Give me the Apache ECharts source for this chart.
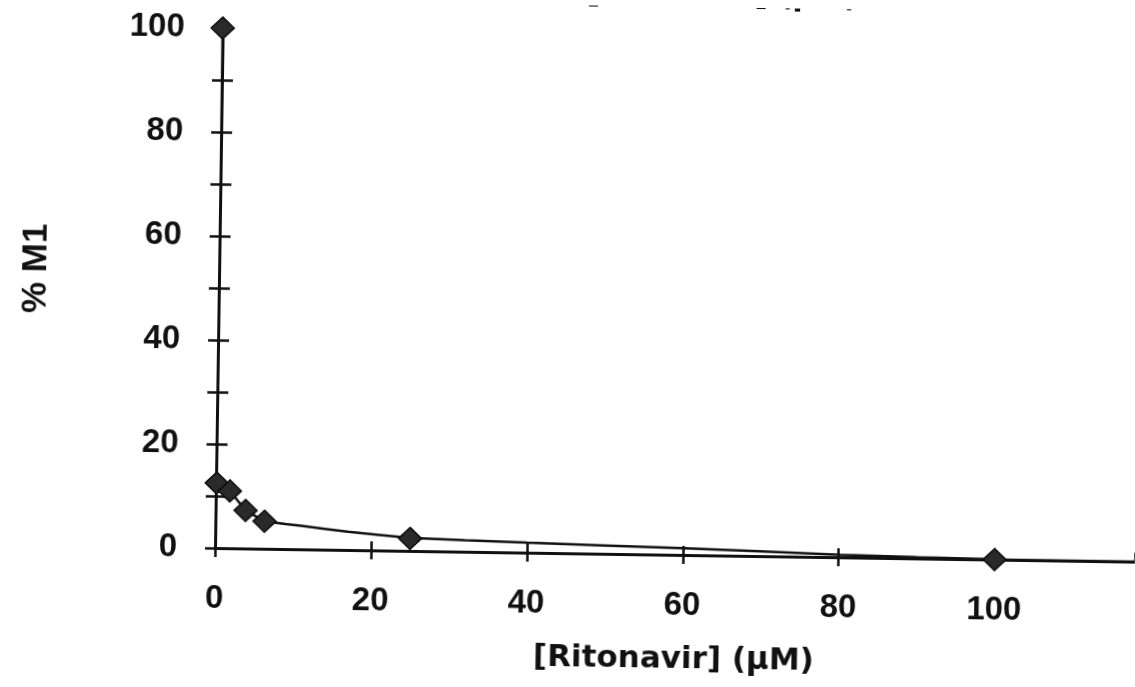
<!DOCTYPE html>
<html>
<head>
<meta charset="utf-8">
<script src="https://cdn.jsdelivr.net/npm/echarts@6/dist/echarts.min.js"></script>
<style>
html,body{margin:0;padding:0;background:#fff;overflow:hidden;}
#chart{width:1135px;height:687px;transform:rotate(0.85deg);transform-origin:215px 548px;}
</style>
</head>
<body>
<div id="chart"></div>
<script>
// Measured points: [Ritonavir] (uM) vs % M1
const pointX = [0, 0.1, 1.8, 3.85, 6.3, 25, 100];
const pointY = [100, 12.5, 11.0, 7.3, 5.3, 2.4, 0];
// Fitted curve
const curveX = [0, 0.1, 1.8, 3.85, 6.3, 7.4, 9, 11, 14, 17, 21, 25, 32, 40, 50, 60, 70, 80, 90, 100, 110, 118];
const curveY = [100, 12.5, 11.0, 7.3, 5.3, 5.1, 4.8, 4.5, 4.0, 3.5, 3.0, 2.5, 2.2, 1.9, 1.6, 1.3, 0.9, 0.5, 0.25, 0.05, 0, 0];
const xTickLabels = [0, 20, 40, 60, 80, 100];
const yTickLabels = [0, 20, 40, 60, 80, 100];
const titleText = '[Ritonavir] (\u03bcM)';
const xName = '[Ritonavir] (\u03bcM)';
const yName = '% M1';

const chart = echarts.init(document.getElementById('chart'), null, {renderer: 'canvas'});
const ink = '#111';
const lblFont = {color: ink, fontFamily: 'Liberation Sans', fontWeight: 'bold', fontSize: 33};

const option = {
  backgroundColor: '#fff',
  animation: false,
  title: {
    text: titleText,
    right: 280,
    top: -31,
    textStyle: {fontFamily: 'DejaVu Sans', fontWeight: 'bold', fontSize: 30, color: ink, lineHeight: 30}
  },
  grid: {left: 215, right: 0, top: 28, bottom: 139, containLabel: false},
  xAxis: [
    {
      type: 'value', min: 0, max: 118, interval: 20,
      name: xName, nameLocation: 'middle', nameGap: 89,
      nameTextStyle: {fontFamily: 'DejaVu Sans', fontWeight: 'bold', fontSize: 31, color: ink},
      axisLine: {show: true, lineStyle: {color: ink, width: 3}},
      axisTick: {show: true, inside: false, length: 9, lineStyle: {color: ink, width: 2.5}},
      splitLine: {show: false},
      axisLabel: Object.assign({margin: 34, showMaxLabel: false,
        formatter: v => xTickLabels.indexOf(v) >= 0 ? String(v) : ''}, lblFont)
    },
    {
      type: 'value', min: 0, max: 118, interval: 20, position: 'bottom',
      axisLine: {show: false},
      axisTick: {show: true, inside: true, length: 9, lineStyle: {color: ink, width: 2.5}},
      axisLabel: {show: false}, splitLine: {show: false}
    }
  ],
  yAxis: [
    {
      type: 'value', min: 0, max: 100, interval: 10,
      name: yName, nameLocation: 'middle', nameGap: 165, nameRotate: 90,
      nameTextStyle: {fontFamily: 'Liberation Sans', fontWeight: 'bold', fontSize: 35, color: ink, padding: [0, 0, 0, 34]},
      axisLine: {show: true, lineStyle: {color: ink, width: 3}},
      axisTick: {show: true, inside: false, length: 10, lineStyle: {color: ink, width: 2.5}},
      splitLine: {show: false},
      axisLabel: Object.assign({margin: 38,
        formatter: v => yTickLabels.indexOf(v) >= 0 ? String(v) : ''}, lblFont)
    },
    {
      type: 'value', min: 0, max: 100, interval: 10, position: 'left',
      axisLine: {show: false},
      axisTick: {show: true, inside: true, length: 11, lineStyle: {color: ink, width: 2.5}},
      axisLabel: {show: false}, splitLine: {show: false}
    }
  ],
  series: [
    {
      type: 'line',
      data: curveX.map((x, i) => [x, curveY[i]]),
      showSymbol: false, symbol: 'none',
      lineStyle: {color: ink, width: 2.5},
      smooth: false, clip: false, z: 2
    },
    {
      type: 'scatter',
      data: pointX.map((x, i) => [x, pointY[i]]),
      symbol: 'diamond', symbolSize: [23, 22],
      itemStyle: {color: '#2a2a2a', borderColor: '#0a0a0a', borderWidth: 1.5, opacity: 1},
      clip: false, z: 3
    }
  ]
};
chart.setOption(option);
</script>
</body>
</html>
